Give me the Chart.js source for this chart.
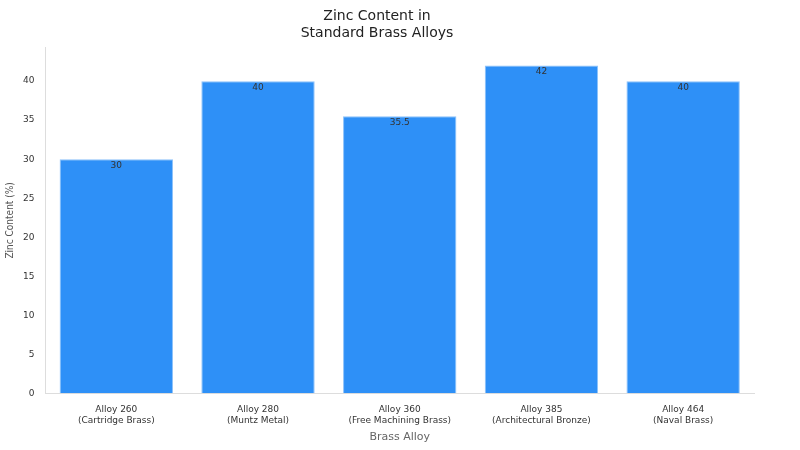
<!DOCTYPE html>
<html lang="en">
<head>
<meta charset="UTF-8">
<title>Zinc Content</title>
<script src="https://cdn.jsdelivr.net/npm/chart.js"></script>
<style>
  body { margin: 0; background: #fff; }
</style>
</head>
<body>
<canvas id="myChart" width="800" height="450"></canvas>
<script>
const alloys = [['Alloy 260', '(Cartridge Brass)'], ['Alloy 280', '(Muntz Metal)'], ['Alloy 360', '(Free Machining Brass)'], ['Alloy 385', '(Architectural Bronze)'], ['Alloy 464', '(Naval Brass)']];
const zinc = [30, 40, 35.5, 42, 40];

// etiquetas de valor dentro de la barra, arriba
const valueLabels = {
  id: 'valueLabels',
  afterDatasetsDraw(chart) {
    const ctx = chart.ctx;
    ctx.save();
    ctx.font = '9px "DejaVu Sans"';
    ctx.fillStyle = '#333';
    ctx.textAlign = 'center';
    ctx.textBaseline = 'top';
    chart.getDatasetMeta(0).data.forEach((bar, i) => {
      ctx.fillText(String(zinc[i]), bar.x, bar.y + 2);
    });
    ctx.restore();
  }
};

Chart.defaults.font.family = '"DejaVu Sans", sans-serif';
Chart.defaults.color = '#333';

new Chart(document.getElementById('myChart'), {
  type: 'bar',
  data: {
    labels: alloys,
    datasets: [{
      data: zinc,
      backgroundColor: '#2e90f7',
      borderColor: '#8cc2fa',
      borderWidth: 1,
      categoryPercentage: 0.8,
      barPercentage: 1.0
    }]
  },
  options: {
    responsive: false,
    animation: false,
    layout: { padding: { left: 0, right: 46, top: 4, bottom: 2 } },
    plugins: {
      legend: { display: false },
      tooltip: { enabled: false },
      title: {
        display: true,
        text: ['Zinc Content in', 'Standard Brass Alloys'],
        font: { size: 14, weight: 'normal' },
        color: '#222',
        padding: { top: 4, bottom: 6 }
      }
    },
    scales: {
      x: {
        grid: { display: false },
        border: { color: '#ddd' },
        ticks: { font: { size: 9 }, color: '#333', maxRotation: 0, autoSkip: false },
        title: { display: true, text: 'Brass Alloy', font: { size: 11 }, color: '#666', padding: { top: 2 } }
      },
      y: {
        min: 0,
        max: 44.3,
        grid: { display: false },
        border: { color: '#ddd' },
        ticks: { stepSize: 5, font: { size: 9 }, color: '#333', callback: v => (v % 5 === 0 ? v : '') },
        title: { display: true, text: 'Zinc Content (%)', font: { size: 10, family: '"DejaVu Sans Condensed", sans-serif' }, color: '#555' }
      }
    }
  },
  plugins: [valueLabels]
});
</script>
</body>
</html>
